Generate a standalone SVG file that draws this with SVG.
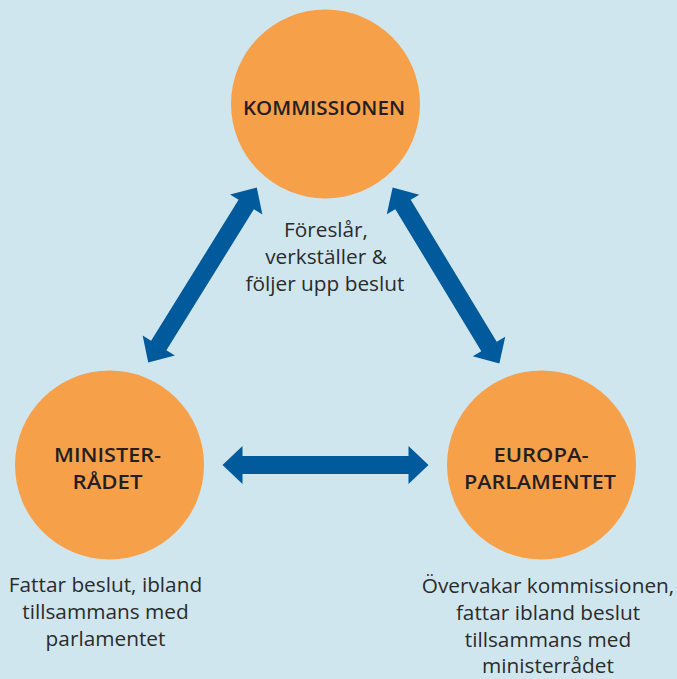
<svg xmlns="http://www.w3.org/2000/svg" xmlns:xlink="http://www.w3.org/1999/xlink" width="677" height="679" viewBox="0 0 677 679">
<style>
.bg{fill:#D0E6EF}
.node{fill:#F7A04A}
.arrow{fill:#005A9B}
.lbl{font-family:"Open Sans","Liberation Sans",sans-serif;font-weight:600;font-size:20px;fill:#231F20;text-anchor:middle}
.cap{font-family:"Open Sans","Liberation Sans",sans-serif;font-size:20.8px;fill:#2B2B2B;text-anchor:middle}
</style>
<defs>
<polygon id="dbl" points="-103,0 -83,-19 -83,-9 83,-9 83,-19 103,0 83,19 83,9 -83,9 -83,19"/>
</defs>
<rect class="bg" x="0" y="0" width="677" height="679"/>
<g id="connectors" class="arrow">
<use xlink:href="#dbl" href="#dbl" transform="translate(202.5,275) rotate(-58.2)"/>
<use xlink:href="#dbl" href="#dbl" transform="translate(446,275.5) rotate(58.8)"/>
<use xlink:href="#dbl" href="#dbl" transform="translate(325.5,465)"/>
</g>
<g id="kommissionen">
<circle class="node" cx="325.5" cy="104" r="94.5"/>
<text class="lbl" x="324" y="115" textLength="162" lengthAdjust="spacingAndGlyphs">KOMMISSIONEN</text>
<text class="cap" x="326" y="237">Föreslår,</text>
<text class="cap" x="326" y="264">verkställer &amp;</text>
<text class="cap" x="325" y="291">följer upp beslut</text>
</g>
<g id="ministerradet">
<circle class="node" cx="109.5" cy="465" r="94.5"/>
<text class="lbl" x="107.5" y="462" textLength="107" lengthAdjust="spacingAndGlyphs">MINISTER-</text>
<text class="lbl" x="107.5" y="489" textLength="70" lengthAdjust="spacingAndGlyphs">RÅDET</text>
<text class="cap" x="105.5" y="592">Fattar beslut, ibland</text>
<text class="cap" x="105.5" y="619">tillsammans med</text>
<text class="cap" x="105.5" y="646">parlamentet</text>
</g>
<g id="europaparlamentet">
<circle class="node" cx="541.5" cy="465" r="94.5"/>
<text class="lbl" x="541" y="462" textLength="95" lengthAdjust="spacingAndGlyphs">EUROPA-</text>
<text class="lbl" x="540" y="489" textLength="152" lengthAdjust="spacingAndGlyphs">PARLAMENTET</text>
<text class="cap" x="548" y="593">Övervakar kommissionen,</text>
<text class="cap" x="548" y="620">fattar ibland beslut</text>
<text class="cap" x="548" y="647">tillsammans med</text>
<text class="cap" x="548" y="673">ministerrådet</text>
</g>
</svg>
